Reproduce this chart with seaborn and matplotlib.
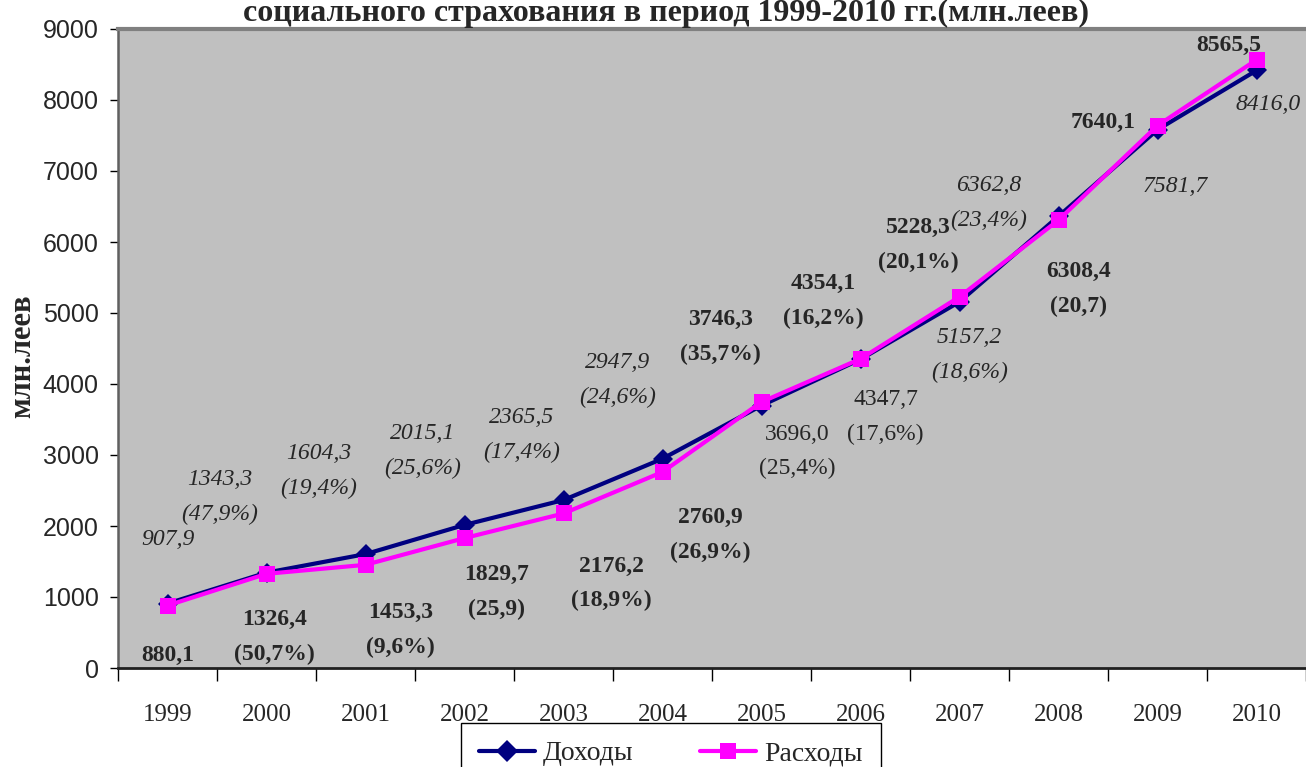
import matplotlib
matplotlib.use("Agg")
import matplotlib.pyplot as plt
from matplotlib.lines import Line2D
from matplotlib.ticker import FixedLocator, NullFormatter
import seaborn as sns
import pandas as pd
import numpy as np

years = [str(y) for y in range(1999, 2011)]
income = [907.9, 1343.3, 1604.3, 2015.1, 2365.5, 2947.9, 3696.0, 4347.7, 5157.2, 6362.8, 7581.7, 8416.0]
expense = [880.1, 1326.4, 1453.3, 1829.7, 2176.2, 2760.9, 3746.3, 4354.1, 5228.3, 6308.4, 7640.1, 8565.5]
income_pct = [None, "47,9%", "19,4%", "25,6%", "17,4%", "24,6%", "25,4%", "17,6%", "18,6%", "23,4%", None, None]
expense_pct = [None, "50,7%", "9,6%", "25,9", "18,9%", "26,9%", "35,7%", "16,2%", "20,1%", "20,7", None, None]
series_names = ["Доходы", "Расходы"]

# label offsets from the point, in pixels (dx right, dy down)
income_off = [(0, -64), (-47, -76), (-47, -83), (-42, -74), (-42, -65), (-45, -79),
              (36, 46), (25, 58), (10, 53), (-70, -13), (18, 57), (12, 34)]
income_italic = [True] * 6 + [False, False] + [True] * 4
expense_off = [(0, 50), (8, 63), (35, 65), (32, 54), (48, 70), (48, 63),
               (-41, -65), (-37, -58), (-41, -52), (20, 69), (-54, -3), (-28, -14)]

navy = "#000080"
magenta = "#FF00FF"

sns.set_theme(style="white")
plt.rcParams["font.family"] = ["Liberation Serif", "DejaVu Serif"]

df = pd.DataFrame({
    "year": years * 2,
    "value": income + expense,
    "series": [series_names[0]] * len(years) + [series_names[1]] * len(years),
})

fig = plt.figure(figsize=(13.06, 7.67), dpi=100)
ax = fig.add_axes([118 / 1306, 1 - 668 / 767, 1188 / 1306, 639 / 767])
ax.set_facecolor("#C0C0C0")

sns.lineplot(data=df, x="year", y="value", hue="series", style="series",
             hue_order=series_names, style_order=series_names,
             palette={"Доходы": navy, "Расходы": magenta},
             markers={"Доходы": "D", "Расходы": "s"}, dashes=False,
             linewidth=3, markeredgewidth=0, sort=False, legend=False, ax=ax)
for ln, ms in zip(ax.lines, [10, 11.5]):
    ln.set_markersize(ms)

ax.set_xlim(-0.5, 11.5)
ax.set_ylim(0, 9000)
ax.set_yticks(np.arange(0, 9001, 1000))
ax.set_xlabel("")
ax.set_ylabel("млн.леев", fontsize=22, fontweight="bold")
ax.yaxis.set_label_coords(-0.068, 0.488)

for lab in ax.get_yticklabels():
    lab.set_family(["Liberation Sans", "DejaVu Sans"])
    lab.set_fontsize(18)
ax.tick_params(axis="y", direction="out", length=6, width=1, color="black", pad=8, left=True)
ax.tick_params(axis="x", which="major", length=0, pad=26, labelsize=18)
ax.xaxis.set_minor_locator(FixedLocator(np.arange(-0.5, 12, 1)))
ax.xaxis.set_minor_formatter(NullFormatter())
ax.tick_params(axis="x", which="minor", direction="out", length=9, width=1, color="black", bottom=True)

ax.spines["top"].set_color("#808080")
ax.spines["top"].set_linewidth(3)
ax.spines["left"].set_color("#606060")
ax.spines["left"].set_linewidth(1.8)
ax.spines["bottom"].set_color("#202020")
ax.spines["bottom"].set_linewidth(2)
ax.spines["right"].set_visible(False)


def fmt(v):
    return f"{v:.1f}".replace(".", ",")


for i, y in enumerate(years):
    txt = fmt(income[i]) if income_pct[i] is None else f"{fmt(income[i])}\n({income_pct[i]})"
    ax.annotate(txt, xy=(i, income[i]), xytext=(income_off[i][0], -income_off[i][1]),
                textcoords="offset pixels", ha="center", va="center", fontsize=17,
                style="italic" if income_italic[i] else "normal", linespacing=1.85)
    txt = fmt(expense[i]) if expense_pct[i] is None else f"{fmt(expense[i])}\n({expense_pct[i]})"
    ax.annotate(txt, xy=(i, expense[i]), xytext=(expense_off[i][0], -expense_off[i][1]),
                textcoords="offset pixels", ha="center", va="center", fontsize=17,
                fontweight="bold", linespacing=1.85)

fig.text(666 / 1306, 1 - 21 / 767, "социального страхования в период 1999-2010 гг.(млн.леев)",
         ha="center", va="baseline", fontsize=23, fontweight="bold")

handles = [Line2D([], [], color=navy, marker="D", markersize=11, lw=3, mew=0),
           Line2D([], [], color=magenta, marker="s", markersize=12, lw=3, mew=0)]
leg = fig.legend(handles, series_names, loc="upper left", bbox_to_anchor=(461 / 1306, 1 - 723 / 767),
                 ncol=2, fontsize=20, frameon=True, fancybox=False, framealpha=1,
                 edgecolor="black", handlelength=2.0, handletextpad=0.3, columnspacing=2.4,
                 borderpad=0.65, borderaxespad=0)
leg.get_frame().set_linewidth(1)

fig.savefig("out.png", dpi=100)
